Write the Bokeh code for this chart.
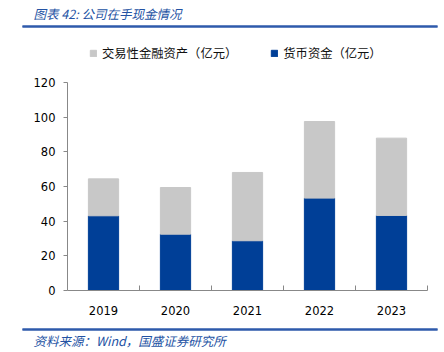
from bokeh.plotting import figure
from bokeh.layouts import column, row
from bokeh.models import (Range1d, FixedTicker, Legend, LegendItem, ColumnDataSource,
                          BoxAnnotation)
from bokeh.core.properties import value
from bokeh.embed import file_html
from bokeh.resources import INLINE

years = ["2019", "2020", "2021", "2022", "2023"]
cash = [43.1, 32.5, 28.7, 53.3, 43.3]            # 货币资金（亿元）
fin_assets = [21.3, 26.9, 39.4, 44.2, 44.6]       # 交易性金融资产（亿元）
y_ticks = [0, 20, 40, 60, 80, 100, 120]
title_text = "图表 42:  公司在手现金情况"
source_text = "资料来源：Wind，国盛证券研究所"
legend_labels = ["交易性金融资产（亿元）", "货币资金（亿元）"]

BLUE = "#003F97"
GREY = "#C8C8C8"
HEAD = "#2352A3"
RULE = "#2E5AAB"
AXIS = "#888888"

W = 444
HEADER_H = 35
FOOTER_H = 32
MAIN_H = 352 - HEADER_H - FOOTER_H

FRAME_H = 250
AXIS_H = 208
Y_TOP = 120 * FRAME_H / AXIS_H


def banner(height, text, text_y, rule_y, size):
    f = figure(frame_width=W, frame_height=height, title=None,
               output_backend="svg", toolbar_location=None,
               x_range=Range1d(0, W), y_range=Range1d(height, 0),
               x_axis_type=None, y_axis_type=None,
               min_border=0, min_border_left=0, min_border_right=0,
               min_border_top=0, min_border_bottom=0)
    f.outline_line_color = None
    f.grid.visible = False
    f.add_layout(BoxAnnotation(left=22, right=437, top=rule_y - 1, bottom=rule_y + 1,
                               fill_color=RULE, fill_alpha=1, line_color=None))
    f.quad(left=[22], right=[437], top=[rule_y - 1], bottom=[rule_y + 1],
           fill_color=RULE, line_color=None)
    f.text(x=[33], y=[text_y], text=[text], text_font=value("Noto Sans CJK SC"),
           text_font_style="italic", text_font_size=size, text_color=HEAD,
           text_baseline="middle", text_align="left")
    return f


header = banner(HEADER_H, title_text, 13, 26, "12.5px")
footer = banner(FOOTER_H, source_text, 340 - (HEADER_H + MAIN_H), 329 - (HEADER_H + MAIN_H), "12.5px")

xs = [i + 0.5 for i in range(len(years))]
totals = [c + f for c, f in zip(cash, fin_assets)]
src = ColumnDataSource(dict(x=xs, cash=cash, fin=fin_assets, total=totals))

p = figure(frame_width=360, frame_height=FRAME_H, output_backend="svg", toolbar_location=None,
           x_range=Range1d(0, len(years)), y_range=Range1d(0, Y_TOP),
           min_border_left=67, min_border_right=17, min_border_top=40 - HEADER_H,
           min_border_bottom=MAIN_H - FRAME_H - (40 - HEADER_H))
p.outline_line_color = None
p.xgrid.visible = False
p.ygrid.visible = False

r_blue = p.vbar(x="x", bottom=0, top="cash", width=0.42, color=BLUE, source=src)
r_grey = p.vbar(x="x", bottom="cash", top="total", width=0.42, color=GREY, source=src)

# x axis
p.xaxis.ticker = FixedTicker(ticks=xs, minor_ticks=[float(i) for i in range(1, len(years) + 1)])
p.xaxis.major_label_overrides = {x: y for x, y in zip(xs, years)}
p.xaxis.major_tick_line_color = None
p.xaxis.minor_tick_in = 5
p.xaxis.minor_tick_out = 0
p.xaxis.minor_tick_line_color = AXIS
p.xaxis.axis_line_color = AXIS
p.xaxis.major_label_text_font = "DejaVu Sans"
p.xaxis.major_label_text_font_size = "11.5px"
p.xaxis.major_label_text_color = "#000000"
p.xaxis.major_label_standoff = 9

# y axis
p.yaxis.ticker = FixedTicker(ticks=y_ticks)
p.yaxis.bounds = (0, 120)
p.yaxis.minor_tick_line_color = None
p.yaxis.major_tick_in = 0
p.yaxis.major_tick_out = 4
p.yaxis.major_tick_line_color = AXIS
p.yaxis.axis_line_color = AXIS
p.yaxis.major_label_text_font = "DejaVu Sans"
p.yaxis.major_label_text_font_size = "11.5px"
p.yaxis.major_label_text_color = "#000000"
p.yaxis.major_label_standoff = 8

legend = Legend(items=[LegendItem(label=legend_labels[0], renderers=[r_grey]),
                       LegendItem(label=legend_labels[1], renderers=[r_blue])],
                orientation="horizontal", location=(22, 228),
                label_text_font="Noto Sans CJK SC", label_text_font_size="12.3px",
                label_text_color="#111111",
                glyph_width=8, glyph_height=8, spacing=33, label_standoff=5,
                border_line_color=None, background_fill_alpha=0,
                margin=0, padding=0)
p.add_layout(legend)

layout = column(row(header), row(p), row(footer), spacing=0)
open("out.html", "w").write(file_html(layout, INLINE))
